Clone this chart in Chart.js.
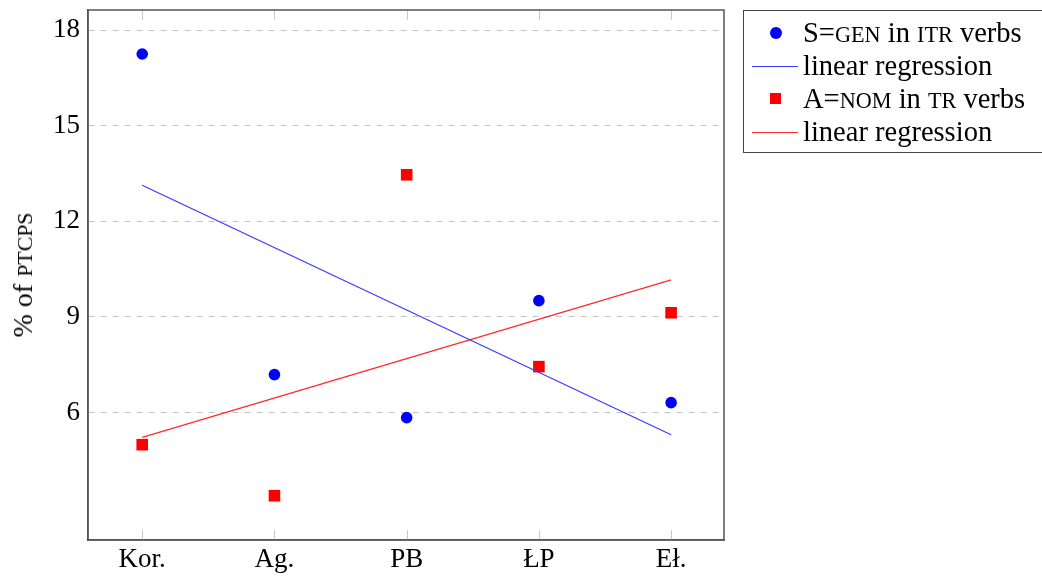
<!DOCTYPE html>
<html>
<head>
<meta charset="utf-8">
<script src="https://cdn.jsdelivr.net/npm/chart.js@4"></script>
<style>
  html, body { margin: 0; padding: 0; background: #fff; }
  #wrap { position: relative; width: 1042px; height: 576px; overflow: hidden; }
  #chart { position: absolute; left: 0; top: 0; }
  .sc { text-transform: uppercase; font-size: 0.78em; }
  #ytitle {
    position: absolute; left: 23px; top: 275px;
    transform: translate(-50%, -50%) rotate(-90deg);
    font-family: 'Liberation Serif', serif; font-size: 28px; color: #000; white-space: nowrap;
  }
  #legend {
    position: absolute; left: 743px; top: 10px; width: 320px; height: 143px;
    border: 1px solid #444; box-sizing: border-box;
    font-family: 'Liberation Serif', serif; font-size: 28.5px; color: #000;
  }
  .row { position: absolute; left: 0; height: 33px; line-height: 33px; white-space: nowrap; }
  .row .txt { position: absolute; left: 59px; top: 0; }
  .mk { position: absolute; }
</style>
</head>
<body>
<div id="wrap">
  <canvas id="chart" width="1042" height="576"></canvas>
  <div id="ytitle">% of <span class="sc">ptcps</span></div>
  <div id="legend"></div>
</div>
<script>
// Categories and values
const categories = ['Kor.', 'Ag.', 'PB', 'ŁP', 'Eł.'];
const genValues = [17.25, 7.19, 5.84, 9.51, 6.31];
const nomValues = [4.99, 3.39, 13.46, 7.44, 9.13];
// regression line end points (at first and last category)
const genRegression = [13.13, 5.30];
const nomRegression = [5.22, 10.16];
const yTicks = [6, 9, 12, 15, 18];

const toPoints = vals => vals.map((v, i) => ({ x: i, y: v }));
const lineEnds = ends => [{ x: 0, y: ends[0] }, { x: categories.length - 1, y: ends[1] }];

// Legend (HTML so small caps render)
const legendRows = [
  { kind: 'circle', color: '#0000ff', html: 'S=<span class="sc">gen</span> in <span class="sc">itr</span> verbs' },
  { kind: 'line', color: '#3a3aff', html: 'linear regression' },
  { kind: 'square', color: '#ff0000', html: 'A=<span class="sc">nom</span> in <span class="sc">tr</span> verbs' },
  { kind: 'line', color: '#ff2a2a', html: 'linear regression' }
];
const legend = document.getElementById('legend');
legendRows.forEach((r, i) => {
  const row = document.createElement('div');
  row.className = 'row';
  row.style.top = (5 + i * 33) + 'px';
  row.style.width = '100%';
  let mk;
  if (r.kind === 'circle') {
    mk = `<div class="mk" style="left:26px;top:11px;width:12px;height:12px;border-radius:50%;background:${r.color}"></div>`;
  } else if (r.kind === 'square') {
    mk = `<div class="mk" style="left:26px;top:11px;width:11px;height:11px;background:${r.color}"></div>`;
  } else {
    mk = `<div class="mk" style="left:8px;top:17px;width:46px;height:0;border-top:1.5px solid ${r.color}"></div>`;
  }
  row.innerHTML = mk + `<span class="txt">${r.html}</span>`;
  legend.appendChild(row);
});

// Frame and inner tick marks
const framePlugin = {
  id: 'frame',
  afterDraw(chart) {
    const { ctx, chartArea: a, scales } = chart;
    ctx.save();
    ctx.strokeStyle = '#c8c8c8';
    ctx.lineWidth = 1;
    categories.forEach((c, i) => {
      const px = Math.round(scales.x.getPixelForValue(i)) + 0.5;
      ctx.beginPath();
      ctx.moveTo(px, a.bottom); ctx.lineTo(px, a.bottom - 10);
      ctx.moveTo(px, a.top); ctx.lineTo(px, a.top + 10);
      ctx.stroke();
    });
    ctx.strokeStyle = '#555';
    ctx.lineWidth = 1.5;
    ctx.strokeRect(a.left, a.top, a.right - a.left, a.bottom - a.top);
    ctx.restore();
  }
};

const serif = "'Liberation Serif', serif";

new Chart(document.getElementById('chart'), {
  type: 'scatter',
  data: {
    datasets: [
      {
        label: 'S=gen in itr verbs',
        data: toPoints(genValues),
        pointStyle: 'circle',
        pointRadius: 5.8,
        pointBackgroundColor: '#0000ff',
        pointBorderWidth: 0,
        showLine: false
      },
      {
        label: 'linear regression',
        data: lineEnds(genRegression),
        showLine: true,
        borderColor: '#3a3aff',
        borderWidth: 1.2,
        pointRadius: 0
      },
      {
        label: 'A=nom in tr verbs',
        data: toPoints(nomValues),
        pointStyle: 'rect',
        pointRadius: 8.2,
        pointBackgroundColor: '#ff0000',
        pointBorderWidth: 0,
        showLine: false
      },
      {
        label: 'linear regression',
        data: lineEnds(nomRegression),
        showLine: true,
        borderColor: '#ff2a2a',
        borderWidth: 1.2,
        pointRadius: 0
      }
    ]
  },
  options: {
    responsive: false,
    animation: false,
    layout: { padding: { top: 10, right: 318, left: 0, bottom: 0 } },
    plugins: {
      legend: { display: false },
      tooltip: { enabled: false }
    },
    scales: {
      x: {
        type: 'linear',
        min: -0.41,
        max: 4.40,
        afterBuildTicks: s => { s.ticks = categories.map((c, i) => ({ value: i })); },
        afterFit: s => { s.height = 36; s.paddingLeft = 0; s.paddingRight = 0; },
        grid: { display: false, drawTicks: false },
        border: { display: true, color: '#555', width: 1.5 },
        ticks: {
          padding: 4,
          color: '#000',
          font: { family: serif, size: 27 },
          maxRotation: 0,
          callback: v => categories[v]
        }
      },
      y: {
        min: 2.0,
        max: 18.63,
        afterBuildTicks: s => { s.ticks = yTicks.map(v => ({ value: v })); },
        afterFit: s => { s.width = 88; s.paddingTop = 0; s.paddingBottom = 0; },
        grid: {
          color: '#c4c4c4',
          lineWidth: 1,
          drawTicks: false,
          tickBorderDash: [6, 6]
        },
        border: { display: true, color: '#555', width: 1.5, dash: [6, 6] },
        ticks: {
          padding: 8,
          color: '#000',
          font: { family: serif, size: 27 }
        }
      }
    }
  },
  plugins: [framePlugin]
});
</script>
</body>
</html>
